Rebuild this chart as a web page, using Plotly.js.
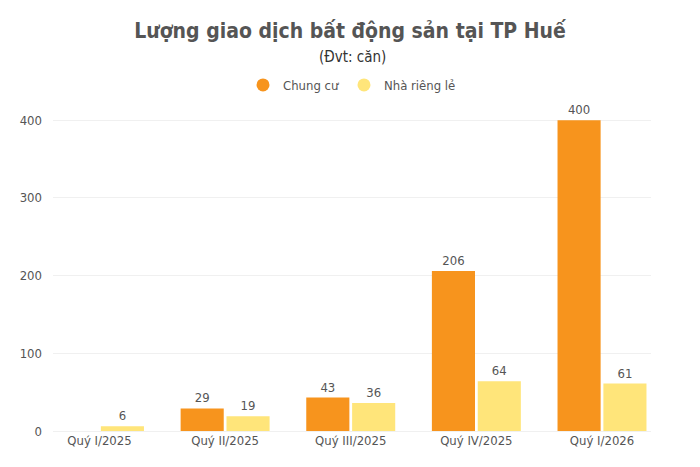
<!DOCTYPE html>
<html>
<head>
<meta charset="utf-8">
<script src="https://cdn.plot.ly/plotly-3.0.1.min.js"></script>
<style>
  body { margin: 0; background: #fff; }
  #chart { width: 700px; height: 467px; }
</style>
</head>
<body>
<div id="chart"></div>
<script>
var quarters = ['Quý I/2025', 'Quý II/2025', 'Quý III/2025', 'Quý IV/2025', 'Quý I/2026'];
var chungCu = [0, 29, 43, 206, 400];
var nhaRiengLe = [6, 19, 36, 64, 61];
var seriesNames = ['Chung cư', 'Nhà riêng lẻ'];
var seriesColors = ['#F7941D', '#FFE57A'];

var fontFam = '"DejaVu Sans Condensed", "DejaVu Sans", sans-serif';

function labels(vals) {
  return vals.map(function (v) { return v === 0 ? '' : String(v); });
}

function barTrace(i, vals) {
  return {
    type: 'bar',
    name: seriesNames[i],
    legendgroup: 'g' + i,
    showlegend: false,
    x: quarters,
    y: vals,
    text: labels(vals),
    textposition: 'outside',
    cliponaxis: false,
    textfont: { color: '#555', size: 13 },
    marker: { color: seriesColors[i] },
    hoverinfo: 'x+y'
  };
}

// legend-only traces so the legend shows round markers
function legendTrace(i) {
  return {
    type: 'scatter',
    mode: 'markers',
    name: seriesNames[i],
    legendgroup: 'g' + i,
    x: [null],
    y: [null],
    marker: { color: seriesColors[i], size: 13, symbol: 'circle' },
    hoverinfo: 'skip'
  };
}

var traces = [
  barTrace(0, chungCu),
  barTrace(1, nhaRiengLe),
  legendTrace(0),
  legendTrace(1)
];

var layout = {
  width: 700,
  height: 467,
  font: { family: fontFam, color: '#555', size: 13 },
  paper_bgcolor: '#fff',
  plot_bgcolor: '#fff',
  margin: { l: 53, r: 49, t: 100, b: 36 },
  barmode: 'group',
  bargap: 0.27,
  bargroupgap: 0.06,
  showlegend: true,
  legend: {
    orientation: 'h',
    x: 0.5, xanchor: 'center',
    y: 1.0, yanchor: 'bottom',
    font: { size: 13, color: '#555' },
    itemwidth: 30,
    tracegroupgap: 0
  },
  title: {
    text: 'Lượng giao dịch bất động sản tại TP Huế',
    x: 0.5, xanchor: 'center',
    y: 0.935, yanchor: 'middle',
    font: { family: fontFam, size: 21, color: '#555', weight: 'bold' }
  },
  annotations: [
    {
      text: '(Đvt: căn)',
      xref: 'paper', yref: 'paper',
      x: 0.5, y: 1.13,
      xanchor: 'center', yanchor: 'middle',
      showarrow: false,
      font: { size: 15, color: '#333' }
    }
  ],
  xaxis: {
    range: [-0.37, 4.39],
    showgrid: false,
    showline: false,
    ticks: '',
    tickfont: { size: 13, color: '#555' },
    fixedrange: true
  },
  yaxis: {
    range: [0, 426],
    tickvals: [0, 100, 200, 300, 400],
    showgrid: true,
    gridcolor: '#f0f0f0',
    zeroline: true,
    zerolinecolor: '#f0f0f0',
    ticks: '',
    ticklabelstandoff: 10,
    tickfont: { size: 13, color: '#555' },
    fixedrange: true
  }
};

Plotly.newPlot('chart', traces, layout, { displayModeBar: false, staticPlot: true });
</script>
</body>
</html>
